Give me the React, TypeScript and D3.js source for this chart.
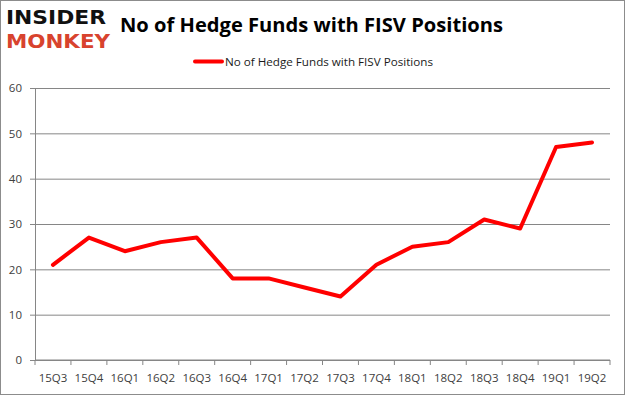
import React, { useEffect, useRef } from "react";
import * as d3 from "d3";

const quarters = [
  "15Q3", "15Q4", "16Q1", "16Q2", "16Q3", "16Q4", "17Q1", "17Q2",
  "17Q3", "17Q4", "18Q1", "18Q2", "18Q3", "18Q4", "19Q1", "19Q2",
];
const funds = [21, 27, 24, 26, 27, 18, 18, 16, 14, 21, 25, 26, 31, 29, 47, 48];
const yTicks = [0, 10, 20, 30, 40, 50, 60];
const seriesName = "No of Hedge Funds with FISV Positions";

const W = 625;
const H = 395;

export default function App() {
  const svgRef = useRef<SVGSVGElement>(null);

  useEffect(() => {
    if (!svgRef.current) return;
    const svg = d3.select(svgRef.current);
    svg.selectAll("*").remove();

    const margin = { top: 88, right: 15, bottom: 35, left: 35 };
    const innerWidth = W - margin.left - margin.right;
    const innerHeight = H - margin.top - margin.bottom;

    // outer frame
    svg.append("rect")
      .attr("x", 0.5).attr("y", 0.5)
      .attr("width", W - 1).attr("height", H - 1)
      .attr("fill", "#fff")
      .attr("stroke", "#8c8c8c");

    // logo
    svg.append("text")
      .attr("x", 6).attr("y", 24)
      .attr("font-family", "DejaVu Sans")
      .attr("font-weight", "bold")
      .attr("font-size", 20)
      .attr("textLength", 100)
      .attr("lengthAdjust", "spacingAndGlyphs")
      .attr("fill", "#111")
      .text("INSIDER");
    svg.append("text")
      .attr("x", 6).attr("y", 48)
      .attr("font-family", "DejaVu Sans")
      .attr("font-weight", "bold")
      .attr("font-size", 20)
      .attr("textLength", 104)
      .attr("lengthAdjust", "spacingAndGlyphs")
      .attr("fill", "#d8432e")
      .text("MONKEY");

    // title
    svg.append("text")
      .attr("x", 120).attr("y", 32)
      .attr("font-family", "Open Sans")
      .attr("font-weight", "bold")
      .attr("font-size", 20)
      .attr("textLength", 383)
      .attr("lengthAdjust", "spacingAndGlyphs")
      .attr("fill", "#000")
      .text(seriesName);

    // legend
    svg.append("line")
      .attr("x1", 195).attr("x2", 222)
      .attr("y1", 61.5).attr("y2", 61.5)
      .attr("stroke", "#ff0000")
      .attr("stroke-width", 4)
      .attr("stroke-linecap", "round");
    svg.append("text")
      .attr("x", 225).attr("y", 65.5)
      .attr("font-family", "Open Sans")
      .attr("font-size", 11)
      .attr("textLength", 208)
      .attr("lengthAdjust", "spacingAndGlyphs")
      .attr("fill", "#1a1a1a")
      .text(seriesName);

    const x = d3.scaleBand().domain(quarters).range([0, innerWidth]);
    const y = d3.scaleLinear().domain([0, 60]).range([innerHeight, 0]);

    const g = svg.append("g")
      .attr("transform", `translate(${margin.left},${margin.top})`);

    // grid
    g.append("g")
      .call(d3.axisLeft(y).tickValues(yTicks).tickSize(-innerWidth).tickFormat(() => ""))
      .call((s) => s.select(".domain").remove())
      .call((s) => s.selectAll(".tick line").attr("stroke", "#868686"));

    // y axis
    g.append("g")
      .call(d3.axisLeft(y).tickValues(yTicks).tickSize(5).tickPadding(8).tickSizeOuter(0))
      .call((s) => s.select(".domain").attr("stroke", "#868686"))
      .call((s) => s.selectAll(".tick line").attr("stroke", "#868686"))
      .call((s) => s.selectAll(".tick text")
        .attr("fill", "#404040")
        .attr("font-family", "Open Sans")
        .attr("font-size", 11.5));

    // x axis
    const xAxis = g.append("g")
      .attr("transform", `translate(0,${innerHeight})`);
    xAxis.append("line")
      .attr("x1", 0).attr("x2", innerWidth)
      .attr("stroke", "#868686");
    xAxis.selectAll(".xtick")
      .data([...quarters, "end"])
      .join("line")
      .attr("class", "xtick")
      .attr("x1", (_, i) => i * x.bandwidth())
      .attr("x2", (_, i) => i * x.bandwidth())
      .attr("y1", 0).attr("y2", 5)
      .attr("stroke", "#868686");
    xAxis.selectAll(".xlabel")
      .data(quarters)
      .join("text")
      .attr("class", "xlabel")
      .attr("x", (d) => (x(d) ?? 0) + x.bandwidth() / 2)
      .attr("y", 22)
      .attr("text-anchor", "middle")
      .attr("fill", "#404040")
      .attr("font-family", "Open Sans")
      .attr("font-size", 11.5)
      .text((d) => d);

    // line
    const line = d3.line<number>()
      .x((_, i) => (x(quarters[i]) ?? 0) + x.bandwidth() / 2)
      .y((d) => y(d));
    g.append("path")
      .datum(funds)
      .attr("fill", "none")
      .attr("stroke", "#ff0000")
      .attr("stroke-width", 4)
      .attr("stroke-linejoin", "round")
      .attr("stroke-linecap", "round")
      .attr("d", line);
  }, []);

  return (
    <svg
      ref={svgRef}
      width={W}
      height={H}
      style={{ position: "absolute", left: 0, top: 0 }}
    />
  );
}
